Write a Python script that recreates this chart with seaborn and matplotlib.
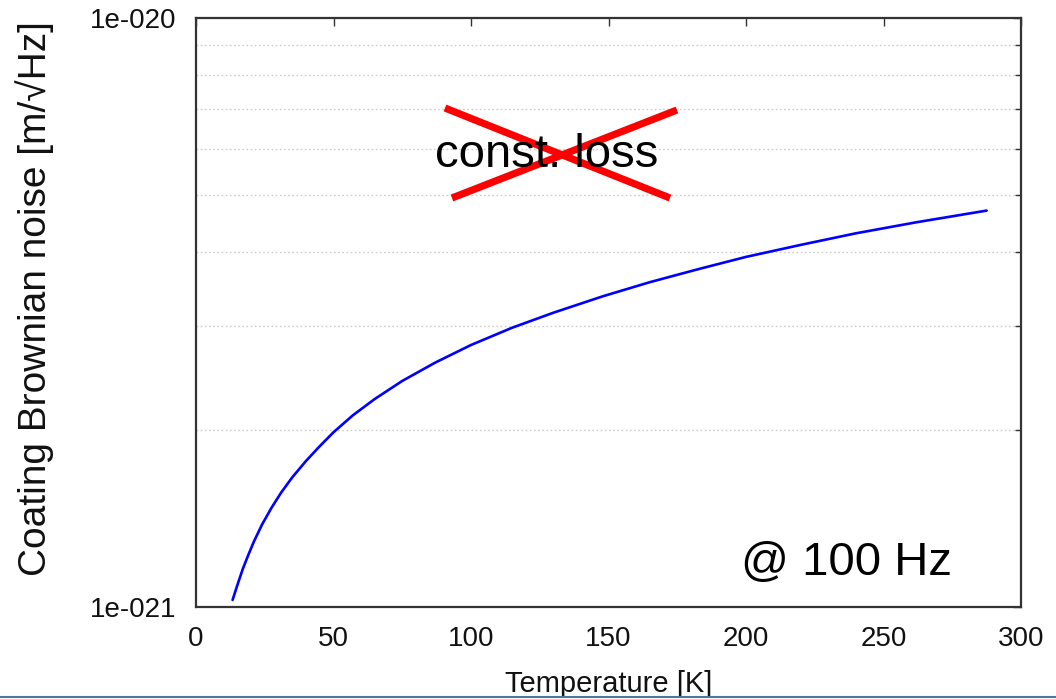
import numpy as np
import pandas as pd
import matplotlib
matplotlib.use("Agg")
import matplotlib.pyplot as plt
import matplotlib.ticker as mticker
from matplotlib.lines import Line2D
import seaborn as sns

# ---- data ----
temperature = [13.3, 15, 17, 19, 21, 24, 27.5, 31, 35, 40, 45, 50, 57, 65, 75, 87,
               100, 115, 130, 148, 165, 183, 200, 220, 240, 262, 287.5]
noise = [1.028e-21, 1.088e-21, 1.16e-21, 1.225e-21, 1.29e-21, 1.38e-21, 1.475e-21,
         1.565e-21, 1.66e-21, 1.77e-21, 1.875e-21, 1.98e-21, 2.115e-21, 2.255e-21,
         2.42e-21, 2.60e-21, 2.785e-21, 2.98e-21, 3.16e-21, 3.37e-21, 3.56e-21,
         3.75e-21, 3.93e-21, 4.12e-21, 4.31e-21, 4.50e-21, 4.71e-21]
x_ticks = [0, 50, 100, 150, 200, 250, 300]
y_major = [1e-21, 1e-20]
y_major_labels = ["1e-021", "1e-020"]
y_minor = [2e-21, 3e-21, 4e-21, 5e-21, 6e-21, 7e-21, 8e-21, 9e-21]
xlabel = "Temperature [K]"
ylabel = "Coating Brownian noise [m/\u221aHz]"
crossed_text = "const. loss"
freq_text = "@ 100 Hz"

df = pd.DataFrame({"T": temperature, "noise": noise})

sns.set_theme(style="white")
plt.rcParams["font.family"] = ["Liberation Sans", "DejaVu Sans"]

fig = plt.figure(figsize=(10.56, 6.99), dpi=100)
ax = fig.add_axes([196/1056, 1-607/699, 825/1056, 589/699])

sns.lineplot(data=df, x="T", y="noise", ax=ax, color="#0000ff", linewidth=1.9)

ax.set_yscale("log")
ax.set_xlim(0, 300)
ax.set_ylim(1e-21, 1e-20)
ax.xaxis.set_major_locator(mticker.FixedLocator(x_ticks))
ax.yaxis.set_major_locator(mticker.FixedLocator(y_major))
ax.yaxis.set_major_formatter(mticker.FixedFormatter(y_major_labels))
ax.yaxis.set_minor_locator(mticker.FixedLocator(y_minor))
ax.yaxis.set_minor_formatter(mticker.NullFormatter())
ax.xaxis.set_minor_locator(mticker.NullLocator())

ax.yaxis.grid(True, which="minor", linestyle=(0, (1.2, 1.8)), color="#cccccc", linewidth=1.0)
ax.yaxis.grid(False, which="major")
ax.xaxis.grid(False)

for s in ax.spines.values():
    s.set_visible(True)
    s.set_color("#333333")
    s.set_linewidth(1.6)

ax.tick_params(axis="both", which="both", direction="in", colors="#333333",
               top=True, right=True, labelsize=20, labelcolor="#111111")
ax.tick_params(axis="both", which="major", length=6, width=1.0)
ax.tick_params(axis="y", which="minor", length=4, width=1.0)
ax.tick_params(axis="x", which="major", pad=14)
ax.tick_params(axis="y", which="major", pad=14)

ax.set_xlabel(xlabel, fontsize=21, color="#111111", labelpad=13)
ax.set_ylabel(ylabel, fontsize=28, color="#111111")
ax.yaxis.set_label_coords(-0.172, 0.523)

# annotations
ax.text(0.4255, 0.767, crossed_text, transform=ax.transAxes, fontsize=34,
        ha="center", va="center", color="black")
ax.add_line(Line2D([0.3018, 0.5745], [0.8472, 0.6944], transform=ax.transAxes,
                   color="#ff0000", linewidth=5.2, solid_capstyle="butt"))
ax.add_line(Line2D([0.3103, 0.5830], [0.6944, 0.8438], transform=ax.transAxes,
                   color="#ff0000", linewidth=5.2, solid_capstyle="butt"))
ax.text(0.788, 0.075, freq_text, transform=ax.transAxes, fontsize=34,
        ha="center", va="center", color="black")

# slide border line at the bottom
fig.add_artist(Line2D([0, 1], [0.003, 0.003], transform=fig.transFigure,
                      color="#4a78a0", linewidth=1.5))

fig.savefig("out.png", dpi=100)
